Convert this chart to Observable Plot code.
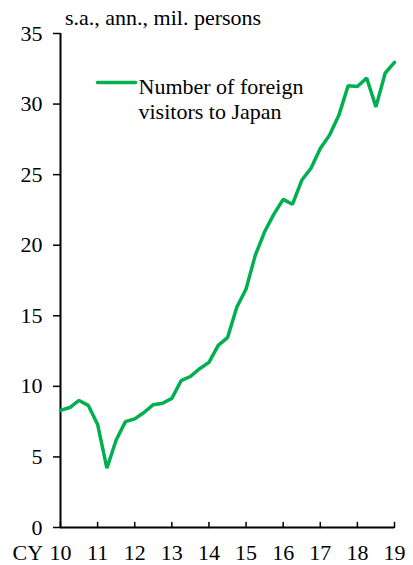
<!DOCTYPE html>
<html>
<head>
<meta charset="utf-8">
<script src="https://cdn.jsdelivr.net/npm/d3@7"></script>
<script src="https://cdn.jsdelivr.net/npm/@observablehq/plot@0.6"></script>
<style>
  html, body { margin: 0; padding: 0; background: #fff; }
  #wrap { position: relative; width: 413px; }
  #title { position: relative; height: 13px; }
  #title span {
    position: absolute; left: 65px; top: 7px;
    font-family: "Liberation Serif"; font-size: 22px; line-height: 22px;
    color: #000; white-space: nowrap;
  }
  #chart svg { display: block; }
</style>
</head>
<body>
<div id="wrap">
  <div id="title"><span id="unit"></span></div>
  <div id="chart"></div>
</div>
<script>
// Quarterly periods (CY2010 Q1 – CY2019 Q1)
const periods = [
  "2010Q1","2010Q2","2010Q3","2010Q4",
  "2011Q1","2011Q2","2011Q3","2011Q4",
  "2012Q1","2012Q2","2012Q3","2012Q4",
  "2013Q1","2013Q2","2013Q3","2013Q4",
  "2014Q1","2014Q2","2014Q3","2014Q4",
  "2015Q1","2015Q2","2015Q3","2015Q4",
  "2016Q1","2016Q2","2016Q3","2016Q4",
  "2017Q1","2017Q2","2017Q3","2017Q4",
  "2018Q1","2018Q2","2018Q3","2018Q4",
  "2019Q1"
];
// Number of foreign visitors to Japan (s.a., ann., mil. persons)
const visitors = [
  8.3, 8.5, 9.0, 8.65,
  7.3, 4.2, 6.2, 7.5,
  7.7, 8.15, 8.7, 8.8,
  9.15, 10.4, 10.7, 11.25,
  11.7, 12.9, 13.45, 15.6,
  16.9, 19.3, 20.95, 22.2,
  23.25, 22.9, 24.6, 25.45,
  26.85, 27.8, 29.2, 31.3,
  31.25, 31.85, 29.8, 32.2,
  32.95
];
const yearTicks = [2010, 2011, 2012, 2013, 2014, 2015, 2016, 2017, 2018, 2019];
const yearLabels = ["10", "11", "12", "13", "14", "15", "16", "17", "18", "19"];
const yTicks = [0, 5, 10, 15, 20, 25, 30, 35];
const seriesName = "Number of foreign\nvisitors to Japan";
const unitLabel = "s.a., ann., mil. persons";
const xPrefix = "CY";

document.getElementById("unit").textContent = unitLabel;

const data = periods.map((p, i) => ({
  t: +p.slice(0, 4) + (+p.slice(5) - 1) / 4,
  v: visitors[i]
}));

const green = "#00B050";
const font = "Liberation Serif";
const fs = 22;

const lineShape = {
  draw(context, l) {
    context.moveTo(0, 0);
    context.lineTo(0, -l);
  }
};

const chart = Plot.plot({
  width: 413,
  height: 552,
  marginLeft: 60,
  marginRight: 19,
  marginTop: 20,
  marginBottom: 38,
  style: { fontFamily: font, fontSize: fs + "px", background: "transparent", color: "#000", overflow: "visible" },
  x: { domain: [2010, 2019] },
  y: { domain: [0, 35] },
  marks: [
    Plot.axisY({
      ticks: yTicks, tickSize: 7, tickPadding: 11, label: null,
      fontSize: fs, fontFamily: font, strokeWidth: 1.5
    }),
    Plot.axisX({
      ticks: yearTicks, tickSize: 0, tickPadding: 17, label: null,
      fontSize: fs, fontFamily: font, tickFormat: (d) => yearLabels[yearTicks.indexOf(d)]
    }),
    Plot.vector(yearTicks, {
      x: (d) => d, y: 0, length: 5, anchor: "start", rotate: 0,
      shape: lineShape, stroke: "#000", strokeWidth: 1.5
    }),
    Plot.ruleX([2010], { stroke: "#000", strokeWidth: 2 }),
    Plot.ruleY([0], { stroke: "#000", strokeWidth: 2 }),
    Plot.line(data, {
      x: "t", y: "v", stroke: green, strokeWidth: 3.5,
      strokeLinejoin: "miter", curve: "linear"
    }),
    // CY prefix
    Plot.text([xPrefix], {
      frameAnchor: "bottom-left", text: (d) => d, textAnchor: "start",
      lineAnchor: "top", dx: -48, dy: 17, fontSize: fs, fontFamily: font, fill: "#000"
    }),
    // legend swatch
    Plot.vector([seriesName], {
      frameAnchor: "top-left", length: 38, anchor: "start", rotate: 90,
      dx: 37, dy: 49, shape: lineShape, stroke: green, strokeWidth: 3.5
    }),
    // legend label
    Plot.text([seriesName], {
      frameAnchor: "top-left", text: (d) => d, textAnchor: "start",
      lineAnchor: "top", dx: 78, dy: 43, lineHeight: 1.14, fontSize: fs, fontFamily: font, fill: "#000"
    })
  ]
});

document.getElementById("chart").appendChild(chart);
</script>
</body>
</html>
